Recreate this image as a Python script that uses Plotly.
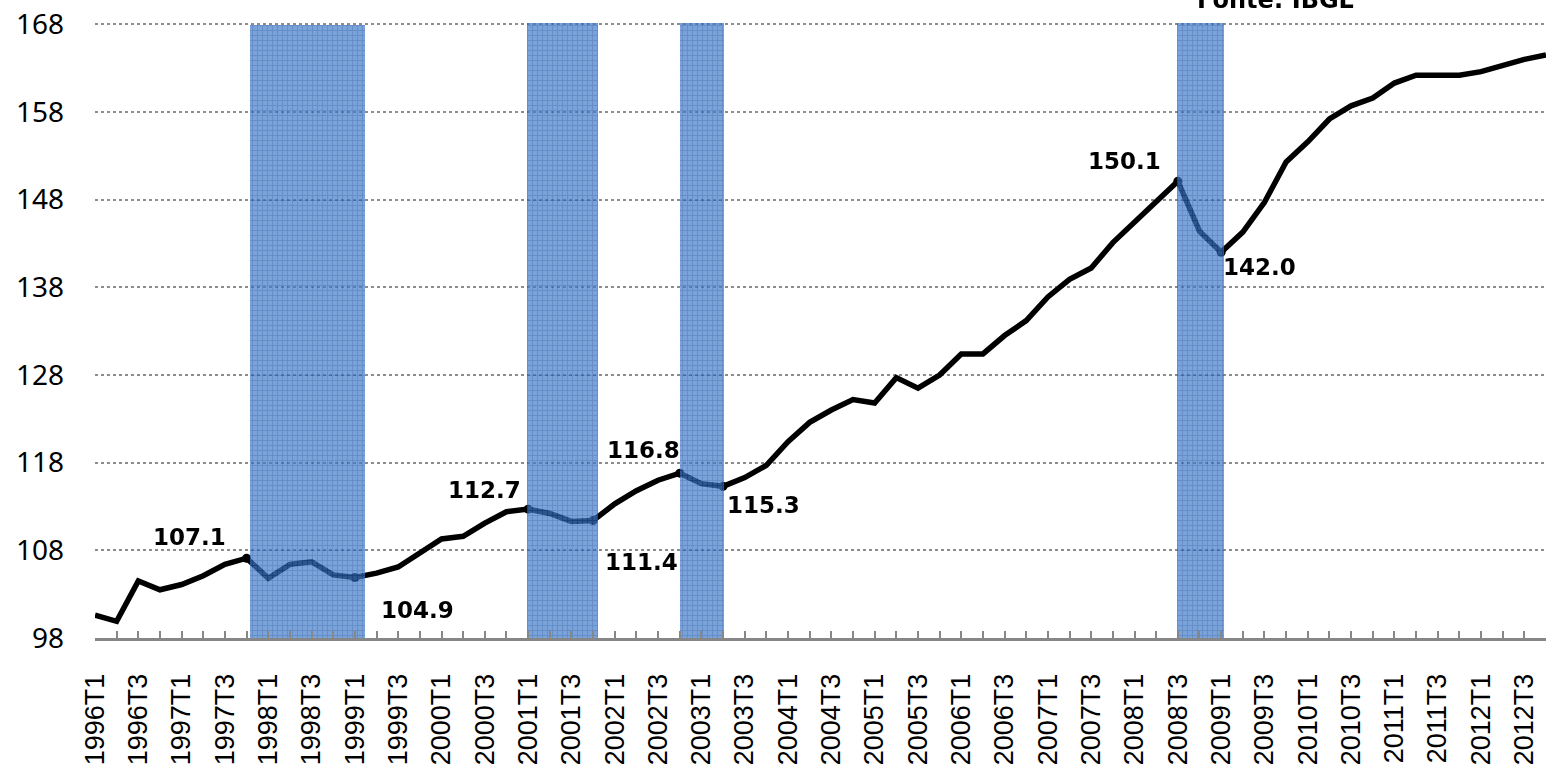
import plotly.graph_objects as go

# ---------------- data ----------------
years = list(range(1996, 2013))
quarters = [f"{y}T{q}" for y in years for q in range(1, 5)]

pib = [
    100.6, 99.9, 104.5, 103.5,
    104.1, 105.1, 106.4, 107.1,
    104.8, 106.4, 106.7, 105.2,
    104.9, 105.4, 106.1, 107.7,
    109.3, 109.6, 111.1, 112.4,
    112.7, 112.2, 111.3, 111.4,
    113.3, 114.8, 116.0, 116.8,
    115.6, 115.3, 116.3, 117.7,
    120.4, 122.6, 124.0, 125.2,
    124.8, 127.7, 126.5, 128.0,
    130.4, 130.4, 132.5, 134.2,
    136.9, 138.9, 140.2, 143.1,
    145.5, 147.7, 150.1, 144.4,
    142.0, 144.3, 147.7, 152.3,
    154.6, 157.2, 158.7, 159.6,
    161.3, 162.2, 162.2, 162.2,
    162.6, 163.3, 164.0, 164.5,
]

# labelled points (quarter, shown text)
label_quarters = ["1997T4", "1999T1", "2001T1", "2001T4", "2002T4", "2003T2", "2008T3", "2009T1"]
label_texts = ["107.1", "104.9", "112.7", "111.4", "116.8", "115.3", "150.1", "142.0"]
label_dx = [-57, 63, -44, 48, -36, 40, -53, 38]
label_dy = [21, -32, 19, -41, 23, -19, 20, -15]

# recession bands in quarter-index units
rec_start = [7.16, 19.93, 27.0, 49.95]
rec_end = [12.47, 23.22, 29.03, 52.12]
rec_top = [167.9, 168.2, 168.9, 168.9]
rec_bottom = [97.2, 97.4, 97.6, 97.6]

y_ticks = [98, 108, 118, 128, 138, 148, 158, 168]

# ---------------- figure ----------------
idx = list(range(len(quarters)))
tick_text = [q if i % 2 == 0 else "" for i, q in enumerate(quarters)]

fig = go.Figure()

fig.add_trace(go.Scatter(
    x=idx, y=pib, mode="lines",
    line=dict(color="black", width=5.5),
    cliponaxis=False, showlegend=False, hoverinfo="skip",
))

lab_idx = [quarters.index(q) for q in label_quarters]
lab_val = [pib[i] for i in lab_idx]
fig.add_trace(go.Scatter(
    x=lab_idx, y=lab_val, mode="markers",
    marker=dict(color="black", size=9),
    cliponaxis=False, showlegend=False, hoverinfo="skip",
))

# recession bands drawn above the line on an overlaying axis pair
centers = [(a + b) / 2 for a, b in zip(rec_start, rec_end)]
widths = [b - a for a, b in zip(rec_start, rec_end)]
heights = [t - b for t, b in zip(rec_top, rec_bottom)]
fig.add_trace(go.Bar(
    x=centers, y=heights, base=rec_bottom, width=widths,
    xaxis="x2", yaxis="y2",
    marker=dict(
        color="#306CBC",
        line=dict(width=0),
        pattern=dict(shape="+", fgcolor="#245CB0", bgcolor="#3F7BC9",
                     fillmode="replace", size=5, solidity=0.35),
    ),
    opacity=0.7, cliponaxis=False, showlegend=False, hoverinfo="skip",
))

for i, t, dx, dy in zip(lab_idx, label_texts, label_dx, label_dy):
    fig.add_annotation(
        x=i, y=pib[i], text=f"<b>{t}</b>", showarrow=False,
        xshift=dx, yshift=dy, xanchor="center", yanchor="middle",
        font=dict(family="DejaVu Sans", size=23, color="black"),
    )

fig.add_annotation(
    xref="paper", yref="paper", x=0.814, y=1.0, yshift=23,
    text="<b>Fonte: IBGE</b>", showarrow=False,
    xanchor="center", yanchor="middle",
    font=dict(family="DejaVu Sans", size=24, color="black"),
)

xrange = [0, len(quarters) - 1]
yrange = [98, 168.15]

fig.update_layout(
    width=1551, height=771,
    margin=dict(l=95, r=5, t=23, b=133),
    paper_bgcolor="white", plot_bgcolor="white",
    bargap=0, barmode="overlay",
    xaxis=dict(
        range=xrange, tickmode="array", tickvals=idx, ticktext=tick_text,
        tickangle=-90, ticks="inside", ticklen=7, tickwidth=2, tickcolor="#878787",
        showline=True, linecolor="#878787", linewidth=3,
        showgrid=False, zeroline=False, automargin=False,
        tickfont=dict(family="Liberation Sans", size=27, color="black"),
        ticklabelstandoff=22,
    ),
    yaxis=dict(
        range=yrange, tickmode="array", tickvals=y_ticks,
        showline=False, ticks="", zeroline=False, automargin=False,
        showgrid=True, gridcolor="#8C8C8C", gridwidth=2, griddash="3px,3px",
        tickfont=dict(family="Noto Sans", size=28, color="black"),
        ticklabelstandoff=30,
    ),
    xaxis2=dict(range=xrange, overlaying="x", visible=False),
    yaxis2=dict(range=yrange, overlaying="y", visible=False),
)

fig.write_html(
    "out.html",
    config={"displayModeBar": False},
    post_script="document.body.style.margin='0';document.body.style.overflow='hidden';",
)
